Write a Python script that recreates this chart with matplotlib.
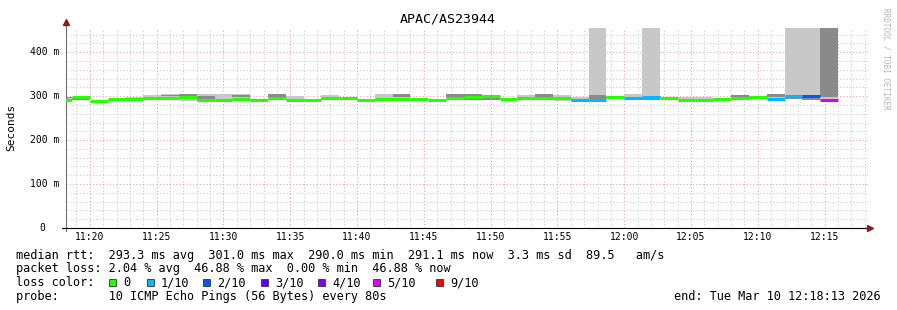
import numpy as np
import matplotlib
matplotlib.use("Agg")
import matplotlib.pyplot as plt
import matplotlib.ticker as ticker
from matplotlib.patches import Rectangle

W, H = 897, 310
MONO = "DejaVu Sans Mono"

# time axis in minutes after 11:00, one rrd step = 80 s
STEP_MIN = 80 / 60
FIRST_STEP = 17 + 20 / 60          # 11:17:20
X_START = 18 + 13 / 60             # 11:18:13
X_END = 78 + 13 / 60               # 12:18:13

# median rtt per step (ms)
MEDIAN = [292, 297, 290, 293, 293, 295, 295, 297, 291, 291, 293, 292, 296, 291, 291,
          295, 295, 292, 293, 293, 293, 291, 296, 298, 300, 294, 295, 296, 296, 292,
          292, 298, 295, 298, 296, 292, 292, 294, 295, 297, 294, 300, 301, 291]
# loss bucket per step (index into LOSS_LABELS)
LOSS = [0, 0, 0, 0, 0, 0, 0, 0, 0, 0, 0, 0, 0, 0, 0,
        0, 0, 0, 0, 0, 0, 0, 0, 0, 0, 0, 0, 0, 0, 1,
        1, 0, 1, 1, 0, 0, 0, 0, 0, 0, 1, 1, 2, 5]
# outer smoke (light grey) per step
SMOKE_LO = [291, 291, 289, 291, 291, 292, 292, 290, 289, 289, 290, 290, 292, 289, 289,
            291, 292, 290, 290, 291, 291, 289, 291, 291, 291, 292, 293, 292, 290, 290,
            290, 293, 291, 292, 293, 290, 290, 292, 291, 293, 292, 293, 292, 292]
SMOKE_HI = [298, 299, 292, 294, 297, 303, 304, 305, 305, 304, 304, 293, 305, 300, 292,
            303, 298, 293, 305, 304, 294, 292, 305, 304, 302, 296, 302, 304, 303, 298,
            470, 301, 304, 470, 298, 298, 298, 296, 303, 300, 304, 470, 470, 470]
# inner smoke (dark grey) per step, lo == hi means none
CORE_LO = [295, 291, 0, 0, 0, 0, 300, 297, 292, 0, 297, 0, 297, 0, 0,
           291, 0, 0, 0, 298, 0, 0, 297, 292, 291, 0, 0, 297, 0, 0,
           294, 293, 0, 292, 0, 0, 0, 0, 298, 0, 297, 294, 292, 297]
CORE_HI = [297, 295, 0, 0, 0, 0, 303, 304, 301, 0, 302, 0, 305, 0, 0,
           293, 0, 0, 0, 304, 0, 0, 305, 304, 297, 0, 0, 304, 0, 0,
           302, 296, 0, 296, 0, 0, 0, 0, 303, 0, 304, 298, 297, 470]

LOSS_LABELS = ["0", "1/10", "2/10", "3/10", "4/10", "5/10", "9/10"]
LOSS_COLORS = ["#26ff00", "#00b8ff", "#0059ff", "#5e00ff", "#7e00ff", "#dd00ff", "#ff0000"]

Y_TICKS = [0, 100, 200, 300, 400]
Y_LABELS = ["0", "100 m", "200 m", "300 m", "400 m"]

TITLE = "APAC/AS23944"
LINE_RTT = ("median rtt:  293.3 ms avg  301.0 ms max  290.0 ms min  "
            "291.1 ms now  3.3 ms sd  89.5   am/s")
LINE_LOSS = "packet loss: 2.04 % avg  46.88 % max  0.00 % min  46.88 % now"
LINE_PROBE = "probe:       10 ICMP Echo Pings (56 Bytes) every 80s"
LINE_END = "end: Tue Mar 10 12:18:13 2026"


def fx(px):
    return px / W


def fy(py):
    return 1 - py / H


fig = plt.figure(figsize=(W / 100, H / 100), dpi=100, facecolor="white")
ax = fig.add_axes([fx(66), fy(228), fx(867.6) - fx(66), fy(28) - fy(228)])

starts = FIRST_STEP + STEP_MIN * np.arange(len(MEDIAN))
lo = np.array(SMOKE_LO, float)
hi = np.array(SMOKE_HI, float)
clo = np.array(CORE_LO, float)
chi = np.array(CORE_HI, float)

ax.bar(starts, hi - lo, bottom=lo, width=STEP_MIN, align="edge",
       color="#c8c8c8", linewidth=0, zorder=2)
ax.bar(starts, chi - clo, bottom=clo, width=STEP_MIN, align="edge",
       color="#8a8a8a", linewidth=0, zorder=3)
ax.hlines(MEDIAN, starts, starts + STEP_MIN,
          colors=[LOSS_COLORS[i] for i in LOSS], linewidth=2.2, zorder=4)

ax.set_xlim(X_START, X_END)
ax.set_ylim(0, 455)

ax.xaxis.set_major_locator(ticker.MultipleLocator(5))
ax.xaxis.set_minor_locator(ticker.MultipleLocator(1))
ax.xaxis.set_major_formatter(ticker.FuncFormatter(
    lambda v, _: f"{11 + int(round(v)) // 60}:{int(round(v)) % 60:02d}"))
ax.set_yticks(Y_TICKS)
ax.yaxis.set_minor_locator(ticker.MultipleLocator(20))
ax.set_yticklabels([])

ax.grid(which="minor", color="#c4c4c4", linestyle=(0, (1, 2.2)), linewidth=0.75, zorder=1)
ax.grid(which="major", color="#e89a9a", linestyle=(0, (1, 2.2)), linewidth=0.75, zorder=1)
ax.set_axisbelow(True)

for s in ["top", "right"]:
    ax.spines[s].set_visible(False)
ax.spines["left"].set_color("#6e6e6e")
ax.spines["bottom"].set_color("black")
ax.tick_params(which="both", length=0)
ax.tick_params(axis="x", which="major", pad=3, labelsize=7)
for lab in ax.get_xticklabels():
    lab.set_family(MONO)

for v, lab in zip(Y_TICKS, Y_LABELS):
    off = -21 if lab == "0" else -7
    ax.annotate(lab, xy=(0, v), xycoords=("axes fraction", "data"),
                xytext=(off, 0), textcoords="offset pixels",
                ha="right", va="center", fontsize=7, family=MONO)

# axis arrows and short axis overhangs
ax.plot([0], [1.03], marker="^", color="#8b1a1a", markersize=4,
        transform=ax.transAxes, clip_on=False, zorder=6)
ax.plot([0, 0], [1.0, 1.03], color="#6e6e6e", linewidth=0.8,
        transform=ax.transAxes, clip_on=False)
ax.plot([0, 0], [0, -0.015], color="#6e6e6e", linewidth=0.8,
        transform=ax.transAxes, clip_on=False)
ax.plot([-0.005, 0], [0, 0], color="black", linewidth=0.8,
        transform=ax.transAxes, clip_on=False)
ax.plot([1.003], [0], marker=">", color="#8b1a1a", markersize=4,
        transform=ax.transAxes, clip_on=False, zorder=6)

fig.text(fx(448), fy(19), TITLE, ha="center", va="center", fontsize=9.5, family=MONO)
fig.text(fx(11), fy(127), "Seconds", ha="center", va="center", rotation=90,
         fontsize=8, family=MONO)
fig.text(fx(886), fy(59), "RRDTOOL / TOBI OETIKER", ha="center", va="center",
         rotation=270, fontsize=5.5, family=MONO, color="#b4b4b4")

LEG = 8.55
fig.text(fx(16), fy(255), LINE_RTT, ha="left", va="center", fontsize=LEG, family=MONO)
fig.text(fx(16), fy(268.5), LINE_LOSS, ha="left", va="center", fontsize=LEG, family=MONO)
fig.text(fx(16), fy(282.5), "loss color:", ha="left", va="center", fontsize=LEG, family=MONO)
box_x = [109, 147, 203, 261, 318, 373, 436]
for bx, lab, col in zip(box_x, LOSS_LABELS, LOSS_COLORS):
    fig.add_artist(Rectangle((fx(bx), fy(286)), fx(7), 7 / H, transform=fig.transFigure,
                             facecolor=col, edgecolor="#333333", linewidth=0.6))
    fig.text(fx(bx + 14), fy(282.5), lab, ha="left", va="center", fontsize=LEG, family=MONO)
fig.text(fx(16), fy(296.5), LINE_PROBE, ha="left", va="center", fontsize=LEG, family=MONO)
fig.text(fx(881), fy(296.5), LINE_END, ha="right", va="center", fontsize=LEG, family=MONO)

fig.savefig("out.png", dpi=100, facecolor="white")
